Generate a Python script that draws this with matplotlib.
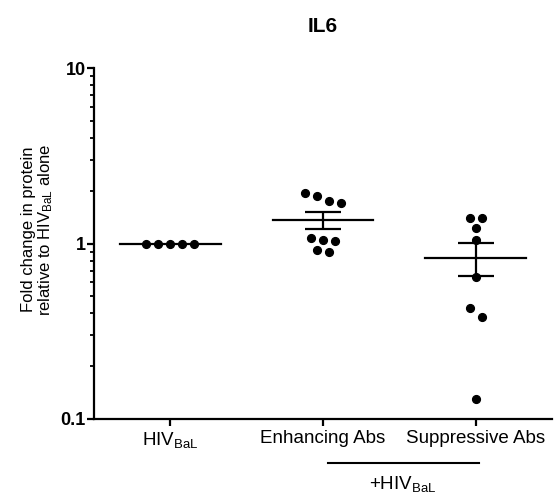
import matplotlib
matplotlib.use("Agg")
import matplotlib.pyplot as plt
import matplotlib.transforms as mtrans
from matplotlib.ticker import LogLocator, NullFormatter, FixedLocator, FixedFormatter
import numpy as np

plt.rcParams['font.family'] = ['Liberation Sans', 'DejaVu Sans']
plt.rcParams['mathtext.default'] = 'regular'

# data
groups = ["HIV$_{BaL}$", "Enhancing Abs", "Suppressive Abs"]
hiv_bal = [1.0, 1.0, 1.0, 1.0, 1.0]
enhancing = [1.93, 1.86, 1.74, 1.71, 1.08, 1.05, 1.04, 0.92, 0.89]
suppressive = [1.39, 1.39, 1.22, 1.05, 0.648, 0.431, 0.383, 0.130]
series = [hiv_bal, enhancing, suppressive]
ytick_vals = [0.1, 1, 10]
ytick_labels = ["0.1", "1", "10"]


def swarm_offsets(vals, step=0.079, thresh=0.055):
    # group points of similar log value into rows and center each row
    order = np.argsort(-np.asarray(vals))
    logs = np.log10(np.asarray(vals))
    offs = np.zeros(len(vals))
    rows, cur = [], [order[0]]
    for i in order[1:]:
        if logs[cur[0]] - logs[i] <= thresh:
            cur.append(i)
        else:
            rows.append(cur)
            cur = [i]
    rows.append(cur)
    for r in rows:
        n = len(r)
        for k, i in enumerate(r):
            offs[i] = (k - (n - 1) / 2) * step
    return offs


fig = plt.figure(figsize=(5.55, 5.04), dpi=100)
ax = fig.add_axes([0.1694, 0.1687, 0.8252, 0.6963])

for i, vals in enumerate(series):
    vals = np.asarray(vals)
    xs = i + swarm_offsets(vals)
    ax.plot(xs, vals, 'o', color='black', markersize=5.6, zorder=3, clip_on=False)
    m = vals.mean()
    ax.plot([i - 0.33, i + 0.33], [m, m], color='black', lw=1.6, zorder=2)
    if len(vals) > 1 and vals.std() > 0:
        sem = vals.std(ddof=1) / np.sqrt(len(vals))
        ax.errorbar(i, m, yerr=sem, fmt='none', ecolor='black', elinewidth=1.6,
                    capsize=13, capthick=1.6, zorder=2)

ax.set_yscale('log')
ax.set_ylim(0.1, 10)
ax.set_xlim(-0.5, 2.5)
ax.yaxis.set_major_locator(FixedLocator(ytick_vals))
ax.yaxis.set_major_formatter(FixedFormatter(ytick_labels))
ax.yaxis.set_minor_locator(LogLocator(base=10, subs=np.arange(2, 10)))
ax.yaxis.set_minor_formatter(NullFormatter())
ax.set_xticks(range(len(groups)))
ax.set_xticklabels(groups, fontsize=13.5)

for lbl in ax.get_yticklabels():
    lbl.set_fontweight('bold')
    lbl.set_fontsize(13)

ax.spines['top'].set_visible(False)
ax.spines['right'].set_visible(False)
ax.spines['left'].set_linewidth(1.6)
ax.spines['bottom'].set_linewidth(1.6)
ax.tick_params(axis='both', which='major', length=5, width=1.6, pad=3)
ax.tick_params(axis='y', which='major', pad=1)
ax.tick_params(axis='y', which='minor', length=3, width=1.3)

ax.set_ylabel("Fold change in protein\nrelative to HIV$_{BaL}$ alone", fontsize=12,
              linespacing=1.0)
ax.yaxis.set_label_coords(-0.085, 0.54)
ax.set_title("IL6", fontsize=15, fontweight='bold', pad=26)

# bracket under the two antibody groups
tr = mtrans.blended_transform_factory(ax.transData, fig.transFigure)
ax.plot([1.03, 2.02], [0.081, 0.081], color='black', lw=1.5, transform=tr, clip_on=False)
ax.text(1.52, 0.04, "+HIV$_{BaL}$", transform=tr, ha='center', va='center', fontsize=13.5)

fig.savefig("out.png", dpi=100)
